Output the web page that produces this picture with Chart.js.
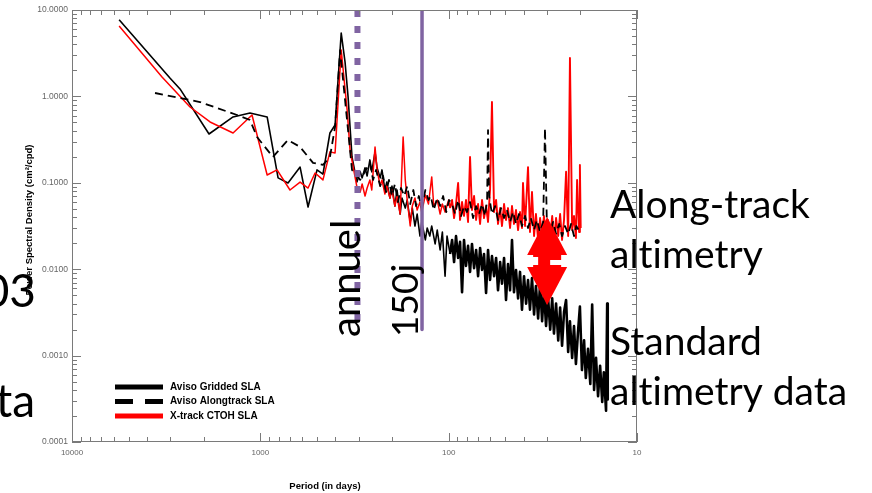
<!DOCTYPE html>
<html>
<head>
<meta charset="utf-8">
<script src="https://cdn.jsdelivr.net/npm/chart.js@4.4.0/dist/chart.umd.min.js"></script>
<style>
html, body { margin: 0; padding: 0; background: #fff; }
canvas { display: block; }
</style>
</head>
<body>
<canvas id="spectrum" width="872" height="493"></canvas>
<script>
// Aviso gridded SLA (black solid)
const gridPeriods = [5620, 3020, 2670, 1873, 1396, 1135, 920, 805, 713, 615, 558, 500, 465, 427, 401, 372, 355, 342, 326,
  307, 295, 288, 278, 271, 262, 256, 246, 240, 231, 226, 218, 213, 205, 200, 193, 188, 181, 177, 170, 166, 160, 156, 151, 147, 142, 139, 133, 130, 126, 123, 118, 115, 111, 108, 104.5, 102, 98.3,
  95.9, 93.6, 91.4, 89.1, 87.0, 84.9, 82.9, 80.9, 78.9, 77.0, 75.2, 73.3, 71.5, 69.8, 68.1, 66.5, 64.9, 63.3, 61.8, 60.3,
  58.9, 57.4, 56.0, 54.7, 53.3, 52.1, 50.8, 49.6, 48.4, 47.2, 46.1, 45.0, 43.9, 42.8, 41.8, 40.8, 39.8, 38.8, 37.9, 37.0,
  36.1, 35.2, 34.4, 33.5, 32.7, 31.9, 31.2, 30.4, 29.7, 28.9, 28.2, 27.6, 26.9, 26.2, 25.6, 25.0, 24.4, 23.8, 23.2, 22.7,
  22.1, 21.6, 21.1, 20.6, 20.1, 19.6, 19.1, 18.7, 18.2, 17.7, 17.3, 16.9, 16.5, 16.1, 15.7, 15.3, 15.0, 14.6, 14.4, 14.3];
const gridPsd = [7.7, 1.63, 1.22, 0.367, 0.578, 0.643, 0.578, 0.114, 0.0995, 0.152, 0.0525, 0.141, 0.126, 0.377, 0.467, 5.4, 2.5, 0.98, 0.199,
  0.102, 0.134, 0.114, 0.149, 0.120, 0.184, 0.134, 0.228, 0.149, 0.114, 0.141, 0.0825, 0.102, 0.0667, 0.0918, 0.0538, 0.0825, 0.0435, 0.0667, 0.051, 0.0632, 0.0352, 0.051, 0.0316, 0.0435, 0.0242, 0.0352, 0.0218, 0.030, 0.0242, 0.0316, 0.0196, 0.0284, 0.0167, 0.0269, 0.0083, 0.0242, 0.0150,
  0.0218, 0.0121, 0.0242, 0.0135, 0.0207, 0.0054, 0.0218, 0.0109, 0.0186, 0.0093, 0.0196, 0.0103, 0.0167, 0.0083, 0.0176, 0.0098, 0.0150, 0.0053, 0.0167, 0.0075,
  0.0142, 0.0083, 0.0135, 0.0057, 0.0121, 0.0068, 0.0135, 0.0044, 0.0115, 0.0057, 0.0218, 0.0054, 0.0098, 0.0046, 0.0093, 0.0034, 0.0083, 0.0040, 0.0075, 0.0034,
  0.0079, 0.0030, 0.0064, 0.0027, 0.0068, 0.0025, 0.0057, 0.0022, 0.0049, 0.0020, 0.0046, 0.0018, 0.0040, 0.0015, 0.0036, 0.0013, 0.0032, 0.0044, 0.0011, 0.0025,
  0.00094, 0.0022, 0.0008, 0.0018, 0.0037, 0.00068, 0.0015, 0.00055, 0.0012, 0.00047, 0.0039, 0.0004, 0.00094, 0.00034, 0.00076, 0.00029, 0.00064, 0.00023, 0.0040, 0.00031];

// Aviso alongtrack SLA (black dashed)
const alongPeriods = [3624, 2090, 1330, 1135, 1041, 857, 713, 615, 525, 465, 427, 401, 377, 355, 326, 295,
  262, 252, 243, 231, 223, 215, 207.5, 200, 193, 186, 179, 172, 166, 160, 154, 149, 144, 139, 133, 128, 124.5, 120, 115, 111, 107, 103, 99.5,
  95.9, 92.5, 89.1, 85.9, 82.9, 79.9, 77.0, 74.2, 71.5, 68.9, 66.5, 64.1, 62.5, 61.8, 61.0, 58.9, 56.7, 54.7, 52.7, 50.8, 49.0, 47.2, 45.5,
  43.9, 42.3, 40.8, 39.3, 37.9, 36.6, 35.2, 34.0, 32.7, 31.5, 30.8, 30.1, 28.9, 27.9, 26.9, 25.9, 25.0, 24.1, 23.2, 22.4, 21.6, 21.0, 20.1];
const alongPsd = [1.095, 0.861, 0.609, 0.533, 0.339, 0.199, 0.313, 0.26, 0.170, 0.161, 0.199, 0.443, 3.44, 0.908, 0.141, 0.108,
  0.170, 0.108, 0.141, 0.0918, 0.120, 0.0782, 0.108, 0.0703, 0.0968, 0.0599, 0.087, 0.0703, 0.0918, 0.0568, 0.0825, 0.0538, 0.0703, 0.051, 0.0825, 0.0632, 0.0703, 0.0484, 0.0667, 0.0538, 0.0703, 0.0459, 0.0632,
  0.0568, 0.0435, 0.0632, 0.0413, 0.0538, 0.0459, 0.0599, 0.0391, 0.0538, 0.0435, 0.0568, 0.0413, 0.0632, 0.408, 0.0703, 0.0435, 0.0538, 0.0371, 0.051, 0.0391, 0.0484, 0.0352, 0.0459,
  0.0334, 0.0435, 0.0316, 0.0413, 0.030, 0.0391, 0.0284, 0.0371, 0.0269, 0.0352, 0.430, 0.0334, 0.0269, 0.0352, 0.0256, 0.0334, 0.0242, 0.0316, 0.0256, 0.0334, 0.0242, 0.0316, 0.0269];

// X-track CTOH SLA (red)
const xtrackPeriods = [5620, 3327, 2362, 1849, 1396, 1107, 920, 815, 696, 615, 558, 512, 465, 427, 401, 372, 346, 334,
  307, 295, 288, 278, 271, 262, 256, 246, 240, 231, 226, 218, 213, 205, 200, 193, 188, 181, 174.5, 170, 166, 160, 156, 151, 147, 142, 139, 133, 128, 123, 120, 115, 111, 108, 104.5, 100, 98.3,
  95.9, 93.6, 91.4, 89.1, 87.0, 84.9, 82.9, 80.9, 78.9, 77.0, 75.2, 73.3, 71.5, 69.8, 68.1, 66.5, 64.9, 63.3, 61.8, 60.3,
  58.9, 57.4, 56.0, 54.7, 53.3, 52.1, 50.8, 49.6, 48.4, 47.2, 46.1, 45.0, 43.9, 42.8, 41.8, 40.8, 40.3, 39.3, 37.9, 37.0,
  36.1, 35.2, 34.4, 33.5, 32.7, 31.9, 31.2, 30.4, 29.7, 28.9, 28.2, 27.6, 26.9, 26.2, 25.6, 25.0, 24.4, 23.8, 23.2, 22.7,
  22.1, 21.6, 21.1, 20.8, 20.3, 20.1, 19.9];
const xtrackPsd = [6.53, 1.68, 0.754, 0.506, 0.377, 0.609, 0.123, 0.141, 0.0825, 0.102, 0.087, 0.130, 0.108, 0.228, 0.2215, 3.44, 0.695, 0.240,
  0.0894, 0.0782, 0.0968, 0.0703, 0.087, 0.108, 0.0825, 0.26, 0.141, 0.0918, 0.108, 0.0742, 0.0918, 0.0667, 0.0825, 0.0538, 0.0703, 0.0435, 0.339, 0.108, 0.0632, 0.0316, 0.0538, 0.0667, 0.0484, 0.0599, 0.0459, 0.0722, 0.0568, 0.117, 0.0538, 0.0632, 0.0435, 0.0568, 0.0459, 0.0632, 0.051,
  0.0632, 0.0391, 0.0568, 0.0995, 0.0371, 0.0599, 0.0413, 0.0632, 0.0352, 0.199, 0.0484, 0.0703, 0.0371, 0.0568, 0.0334, 0.0632, 0.0391, 0.0538, 0.0352, 0.0825,
  0.861, 0.0459, 0.0632, 0.0334, 0.051, 0.0316, 0.0568, 0.0371, 0.051, 0.030, 0.0538, 0.0334, 0.0484, 0.0284, 0.0459, 0.030, 0.0995, 0.0316, 0.152, 0.0269,
  0.0782, 0.0242, 0.0435, 0.0218, 0.0391, 0.0242, 0.0413, 0.0218, 0.0371, 0.023, 0.0413, 0.0207, 0.0391, 0.0242, 0.0435, 0.0218, 0.0371, 0.134, 0.0242, 2.78,
  0.0284, 0.0413, 0.023, 0.108, 0.0269, 0.161, 0.030];

// slide annotations (periods in days, psd values)
const annualPeriod = 305;
const cutoffPeriod = 138.5;
const markerTop = 10;
const markerBottom = 0.002;
const arrowPeriod = 30;
const arrowTop = 0.0402;
const arrowBottom = 0.00385;

const xTickValues = [10, 20, 30, 40, 50, 60, 70, 80, 90, 100, 200, 300, 400, 500, 600, 700, 800, 900,
  1000, 2000, 3000, 4000, 5000, 6000, 7000, 8000, 9000, 10000];
const yTickValues = [0.0001, 0.0002, 0.0003, 0.0004, 0.0005, 0.0006, 0.0007, 0.0008, 0.0009,
  0.001, 0.002, 0.003, 0.004, 0.005, 0.006, 0.007, 0.008, 0.009,
  0.01, 0.02, 0.03, 0.04, 0.05, 0.06, 0.07, 0.08, 0.09,
  0.1, 0.2, 0.3, 0.4, 0.5, 0.6, 0.7, 0.8, 0.9,
  1, 2, 3, 4, 5, 6, 7, 8, 9, 10];

const PURPLE = '#8064A2';
const AXIS_FONT = 'Liberation Sans, Arial, sans-serif';
const SLIDE_FONT = 'Lato, sans-serif';
// zero width non-joiner keeps Lato from using its "ti" ligature
const ZWNJ = '\u200C';

function isDecade(v) {
  const l = Math.log10(v);
  return Math.abs(l - Math.round(l)) < 1e-6;
}
function toPoints(xs, ys) {
  return xs.map((p, i) => ({ x: p, y: ys[i] }));
}
function seg(ctx, x1, y1, x2, y2) {
  ctx.beginPath(); ctx.moveTo(x1, y1); ctx.lineTo(x2, y2); ctx.stroke();
}
// thicker stroke where the spectrum gets dense
function denseWidth(thin, thick) {
  return c => (c.p0.parsed.x < 100 ? thick : thin);
}

// IDL style frame with inward ticks on all four sides
const frameTicks = {
  id: 'frameTicks',
  afterDatasetsDraw(chart) {
    const { ctx, chartArea: a, scales: { x, y } } = chart;
    ctx.save();
    ctx.strokeStyle = '#7a7a7a';
    ctx.lineWidth = 1;
    ctx.strokeRect(a.left + 0.5, a.top + 0.5, a.right - a.left - 1, a.bottom - a.top - 1);
    x.ticks.forEach(t => {
      const px = Math.round(x.getPixelForValue(t.value)) + 0.5;
      const len = isDecade(t.value) ? 9 : 5;
      seg(ctx, px, a.bottom, px, a.bottom - len);
      seg(ctx, px, a.top, px, a.top + len);
    });
    y.ticks.forEach(t => {
      const py = Math.round(y.getPixelForValue(t.value)) + 0.5;
      const len = isDecade(t.value) ? 9 : 5;
      seg(ctx, a.left, py, a.left + len, py);
      seg(ctx, a.right, py, a.right - len, py);
    });
    ctx.restore();
  }
};

// legend in the lower left of the plot
const legendBox = {
  id: 'legendBox',
  afterDatasetsDraw(chart) {
    const { ctx, chartArea: a } = chart;
    ctx.save();
    ctx.font = 'bold 10px ' + AXIS_FONT;
    ctx.textBaseline = 'middle';
    ctx.fillStyle = '#000';
    chart.data.datasets.filter(d => d.label).forEach((d, i) => {
      const yy = a.bottom - 55 + i * 14.5;
      ctx.strokeStyle = d.borderColor;
      ctx.lineWidth = 5;
      ctx.setLineDash(d.borderDash ? [18, 12] : []);
      seg(ctx, a.left + 43, yy, a.left + 91, yy);
      ctx.fillText(d.label, a.left + 98, yy);
    });
    ctx.restore();
  }
};

// slide overlay: arrow, rotated labels, side texts, axis titles
const slideOverlay = {
  id: 'slideOverlay',
  afterDraw(chart) {
    const { ctx, chartArea: a, scales: { x, y } } = chart;
    ctx.save();

    const ax = x.getPixelForValue(arrowPeriod);
    const top = y.getPixelForValue(arrowTop);
    const bot = y.getPixelForValue(arrowBottom);
    ctx.fillStyle = '#ff0000';
    ctx.beginPath();
    ctx.moveTo(ax, top); ctx.lineTo(ax + 20, top + 38); ctx.lineTo(ax - 20, top + 38); ctx.closePath(); ctx.fill();
    ctx.beginPath();
    ctx.moveTo(ax, bot); ctx.lineTo(ax + 20, bot - 38); ctx.lineTo(ax - 20, bot - 38); ctx.closePath(); ctx.fill();
    ctx.fillRect(ax - 14, top + 37, 28, bot - top - 74 + 2);
    ctx.fillStyle = '#fff';
    ctx.fillRect(ax - 17, top + 40, 8, 8);
    ctx.fillRect(ax + 3, top + 43, 15, 5);

    ctx.fillStyle = '#000';
    ctx.textBaseline = 'alphabetic';
    ctx.textAlign = 'left';
    const ya = a.bottom - 105;
    ctx.save();
    ctx.translate(x.getPixelForValue(annualPeriod) + 3, ya);
    ctx.rotate(-Math.PI / 2);
    ctx.font = '40px ' + SLIDE_FONT;
    ctx.fillText('annuel', 0, 0);
    ctx.restore();
    ctx.save();
    ctx.translate(x.getPixelForValue(cutoffPeriod) - 4, ya);
    ctx.rotate(-Math.PI / 2);
    ctx.font = '37px ' + SLIDE_FONT;
    ctx.fillText('150j', 0, 0);
    ctx.restore();

    ctx.font = '39px ' + SLIDE_FONT;
    const tx = a.right - 27;
    ctx.fillText('Along-track', tx, 218);
    ctx.fillText('alt' + ZWNJ + 'imetry', tx, 268);
    ctx.fillText('Standard', tx, 355);
    ctx.fillText('alt' + ZWNJ + 'imetry data', tx, 405);

    ctx.font = 'bold 9.5px ' + AXIS_FONT;
    ctx.textAlign = 'center';
    ctx.textBaseline = 'middle';
    ctx.fillText('Period (in days)', a.left + 253, a.bottom + 44);
    ctx.save();
    ctx.translate(29, (a.top + a.bottom) / 2 - 6);
    ctx.rotate(-Math.PI / 2);
    ctx.fillText('Power Spectral Density (cm\u00B2/cpd)', 0, 0);
    ctx.restore();

    ctx.font = '46px ' + SLIDE_FONT;
    ctx.textAlign = 'right';
    ctx.textBaseline = 'alphabetic';
    ctx.fillText('03', 36, 307);
    ctx.fillText('ta', 35, 417);
    ctx.restore();
  }
};

const datasets = [{
  label: 'Aviso Gridded SLA',
  data: toPoints(gridPeriods, gridPsd),
  borderColor: '#000',
  borderWidth: 1.6,
  segment: { borderWidth: denseWidth(1.6, 2.6) },
  order: 3
}, {
  label: 'Aviso Alongtrack SLA',
  data: toPoints(alongPeriods, alongPsd),
  borderColor: '#000',
  borderWidth: 1.8,
  borderDash: [8, 5],
  order: 1
}, {
  label: 'X-track CTOH SLA',
  data: toPoints(xtrackPeriods, xtrackPsd),
  borderColor: '#ff0000',
  borderWidth: 1.5,
  segment: { borderWidth: denseWidth(1.5, 1.9) },
  order: 2
}, {
  data: [{ x: annualPeriod, y: markerTop }, { x: annualPeriod, y: markerBottom }],
  borderColor: PURPLE,
  borderWidth: 6,
  borderDash: [7, 9],
  borderCapStyle: 'butt',
  order: 0
}, {
  data: [{ x: cutoffPeriod, y: markerTop }, { x: cutoffPeriod, y: markerBottom }],
  borderColor: PURPLE,
  borderWidth: 3.5,
  order: 0
}];

datasets.forEach(d => {
  d.pointRadius = 0;
  d.tension = 0;
  d.fill = false;
  d.borderJoinStyle = 'round';
});

new Chart(document.getElementById('spectrum').getContext('2d'), {
  type: 'line',
  data: { datasets },
  options: {
    responsive: false,
    animation: false,
    devicePixelRatio: 1,
    events: [],
    layout: { padding: { left: 0, right: 235, top: 10, bottom: 0 } },
    plugins: { legend: { display: false }, tooltip: { enabled: false } },
    scales: {
      x: {
        type: 'logarithmic',
        reverse: true,
        min: 10,
        max: 10000,
        afterBuildTicks: s => { s.ticks = xTickValues.map(v => ({ value: v })); },
        afterFit: s => { s.height = 51; },
        grid: { display: false, drawTicks: false },
        border: { display: false },
        ticks: {
          autoSkip: false,
          maxRotation: 0,
          padding: 6,
          color: '#666',
          font: { size: 8, family: AXIS_FONT },
          callback: v => isDecade(v) ? String(v) : ''
        }
      },
      y: {
        type: 'logarithmic',
        min: 0.0001,
        max: 10,
        afterBuildTicks: s => { s.ticks = yTickValues.map(v => ({ value: v })); },
        afterFit: s => { s.width = 72; },
        grid: { display: false, drawTicks: false },
        border: { display: false },
        ticks: {
          autoSkip: false,
          padding: 4,
          color: '#666',
          font: { size: 8.5, family: AXIS_FONT },
          callback: v => isDecade(v) ? v.toFixed(4) : ''
        }
      }
    }
  },
  plugins: [frameTicks, legendBox, slideOverlay]
});
</script>
</body>
</html>
